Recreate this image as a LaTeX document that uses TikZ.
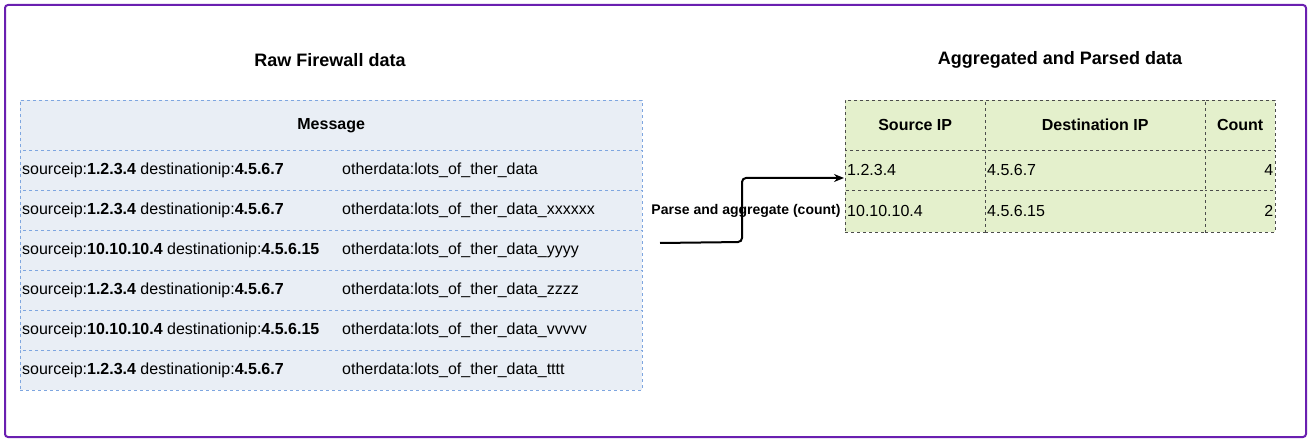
\documentclass[tikz,border=0pt]{standalone}
\usepackage{fontspec}
\setmainfont{Liberation Sans}
\usetikzlibrary{patterns,arrows.meta}
\definecolor{frame}{HTML}{6A1FB0}
\definecolor{bluefill}{HTML}{E9EEF5}
\definecolor{bluedash}{HTML}{7EA6E0}
\definecolor{greenfill}{HTML}{E4F0CC}
\tikzset{
  bcell/.style={draw=bluedash,dashed,fill=bluefill,minimum width=622pt,minimum height=40pt,inner sep=0pt,anchor=north west},
  gcell/.style={draw=black!70,dashed,fill=greenfill,inner sep=2pt,anchor=north west},
  rowtxt/.style={anchor=west,font=\fontsize{16}{18}\selectfont,inner sep=2pt},
  title/.style={font=\bfseries\fontsize{18}{20}\selectfont},
  hdr/.style={font=\bfseries\fontsize{16}{18}\selectfont}
}
\begin{document}
\begin{tikzpicture}[x=1pt,y=-1pt]
\useasboundingbox (0,0) rectangle (1312,443);
\draw[frame,line width=2pt,rounded corners=3pt] (5,5) rectangle (1306,437);
\node[title] (t1) at (330,60) {Raw Firewall data};
\node[title] (t2) at (1060,60) {Aggregated and Parsed data};
% left table
\node[bcell,minimum height=50pt,hdr] (hd) at (20,100) {Message};
\foreach \i/\s/\d/\o in {0/1.2.3.4/4.5.6.7/lots\_of\_ther\_data,
  1/1.2.3.4/4.5.6.7/lots\_of\_ther\_data\_xxxxxx,
  2/10.10.10.4/4.5.6.15/lots\_of\_ther\_data\_yyyy,
  3/1.2.3.4/4.5.6.7/lots\_of\_ther\_data\_zzzz,
  4/10.10.10.4/4.5.6.15/lots\_of\_ther\_data\_vvvvv,
  5/1.2.3.4/4.5.6.7/lots\_of\_ther\_data\_tttt}{
  \node[bcell] (r\i) at (20,150+40*\i) {};
  \node[rowtxt] (a\i) at (20,170+40*\i) {sourceip:\textbf{\s} destinationip:\textbf{\d}};
  \node[rowtxt] (b\i) at (340,170+40*\i) {otherdata:\o};
}
% right table
\node[gcell,minimum width=140pt,minimum height=50pt,hdr] (h1) at (845,100) {Source IP};
\node[gcell,minimum width=220pt,minimum height=50pt,hdr] (h2) at (985,100) {Destination IP};
\node[gcell,minimum width=70pt,minimum height=50pt,hdr] (h3) at (1205,100) {Count};
\foreach \i/\s/\d/\c/\y/\h in {0/1.2.3.4/4.5.6.7/4/150/40, 1/10.10.10.4/4.5.6.15/2/190/42}{
  \node[gcell,minimum width=140pt,minimum height=\h pt] (s\i) at (845,\y) {};
  \node[gcell,minimum width=220pt,minimum height=\h pt] (d\i) at (985,\y) {};
  \node[gcell,minimum width=70pt,minimum height=\h pt] (c\i) at (1205,\y) {};
  \node[rowtxt] at (s\i.west) {\s};
  \node[rowtxt] at (d\i.west) {\d};
  \node[rowtxt,anchor=east] at (c\i.east) {\c};
}
% arrow
\coordinate (st) at (660,243);
\coordinate (en) at (844,178);
\node[font=\bfseries\fontsize{14}{16}\selectfont,inner sep=0pt] (lbl) at (746,211) {Parse and aggregate (count)};
\draw[line width=2pt,-{Stealth[length=10pt,width=8pt]},rounded corners=4pt] (st) -- (742,242) -- (742,178) -- (en);
\end{tikzpicture}
\end{document}
